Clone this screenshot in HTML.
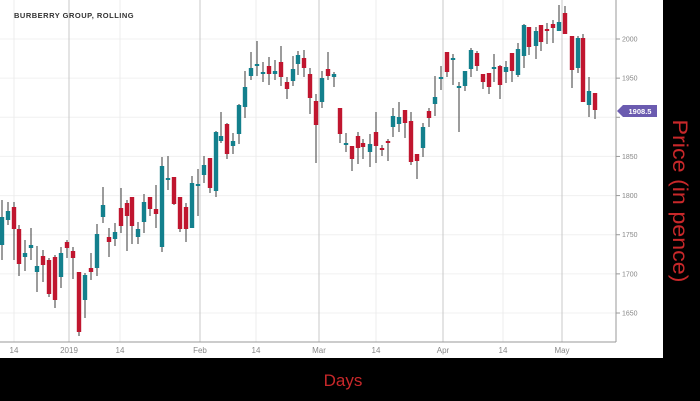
<!DOCTYPE html>
<html><head><meta charset="utf-8"><style>
body{margin:0;width:700px;height:401px;background:#000;overflow:hidden;font-family:"Liberation Sans",sans-serif}
</style></head><body>
<svg id="s" width="700" height="401" xmlns="http://www.w3.org/2000/svg" style="position:absolute;left:0;top:0">
<rect x="0" y="0" width="700" height="401" fill="#000"/>
<rect x="0" y="0" width="663" height="358" fill="#fff"/>
<g id="grid"></g>
<g id="c"></g>
<line x1="616" y1="0" x2="616" y2="342" stroke="#999" stroke-width="1"/>
<line x1="0" y1="342" x2="616" y2="342" stroke="#999" stroke-width="1"/>
<text x="14" y="18" font-size="7.5" font-weight="bold" fill="#333" letter-spacing="0.5">BURBERRY GROUP, ROLLING</text>
<g font-size="8" fill="#888" text-anchor="middle">
<text x="14" y="353">14</text><text x="69" y="353">2019</text><text x="120" y="353">14</text>
<text x="200" y="353">Feb</text><text x="256" y="353">14</text><text x="319" y="353">Mar</text>
<text x="376" y="353">14</text><text x="443" y="353">Apr</text><text x="503" y="353">14</text><text x="562" y="353">May</text>
</g>
<path d="M617,111 L623,105 L657,105 L657,117 L623,117 Z" fill="#6b5bb0"/>
<text x="640" y="114" font-size="7.5" font-weight="bold" fill="#fff" text-anchor="middle">1908.5</text>
<text x="343" y="386" font-size="17" fill="#c8282a" text-anchor="middle">Days</text>
<text transform="translate(673,201) rotate(90)" font-size="21" fill="#c8282a" text-anchor="middle" textLength="163" lengthAdjust="spacingAndGlyphs">Price (in pence)</text>
</svg>
<script>
var ns="http://www.w3.org/2000/svg";
function el(p,t,a){var e=document.createElementNS(ns,t);for(var k in a)e.setAttribute(k,a[k]);p.appendChild(e);return e;}
var g=document.getElementById('grid');
var prices=[2000,1950,1900,1850,1800,1750,1700,1650];
prices.forEach(function(p){var y=39+(2000-p)*0.7829;
el(g,'line',{x1:0,x2:616,y1:y,y2:y,stroke:'#f0f0f0'});
el(g,'line',{x1:616,x2:620,y1:y,y2:y,stroke:'#999'});
if(p!=1900){var t=el(g,'text',{x:622,y:y+2.5,'font-size':7,fill:'#888'});t.textContent=p;}});
[14,120,256,376,503].forEach(function(x){el(g,'line',{x1:x,x2:x,y1:0,y2:342,stroke:'#ececec'});});
[69,200,319,443,562].forEach(function(x){el(g,'line',{x1:x,x2:x,y1:0,y2:342,stroke:'#c8c8c8'});});
var d=[[2,'t',217,245,200,260],[8,'t',211,220,202,225],[14,'r',207,229,202,260],[19,'r',229,264,225,276],[25,'t',253,257,240,271],[31,'t',245,248,228,260],[37,'t',266,272,246,292],[43,'r',256,265,250,282],[49,'r',260,294,258,297],[55,'r',257,300,255,308],[61,'t',253,277,247,288],[67,'r',242,248,240,258],[73,'r',251,258,247,279],[79,'r',272,332,272,336],[85,'t',275,300,273,318],[91,'r',268,272,253,280],[97,'t',234,268,224,276],[103,'t',205,217,187,223],[109,'r',237,242,228,257],[115,'t',232,239,223,246],[121,'r',208,226,188,233],[127,'r',203,216,200,251],[132,'r',197,226,197,244],[138,'t',229,237,222,244],[144,'t',202,222,194,233],[150,'r',197,209,197,216],[156,'r',209,214,185,228],[162,'t',166,247,157,252],[168,'t',178,180,156,190],[174,'r',177,204,177,205],[180,'r',197,229,197,232],[186,'r',207,229,203,242],[192,'t',183,228,176,228],[198,'t',184,186,169,216],[204,'t',165,175,156,183],[210,'r',158,188,158,193],[216,'t',132,191,131,197],[221,'t',136,141,112,143],[227,'r',124,154,123,159],[233,'t',141,146,133,154],[239,'t',105,134,104,144],[245,'t',87,107,71,118],[251,'t',68,76,52,80],[257,'t',64,65,41,76],[263,'t',72,73,62,82],[269,'r',66,74,57,85],[275,'t',71,74,60,80],[281,'r',62,77,46,86],[287,'r',82,89,77,99],[293,'t',69,81,56,86],[298,'t',55,64,51,75],[304,'r',58,68,50,77],[310,'r',74,98,68,114],[316,'r',101,125,94,163],[322,'t',78,102,71,108],[328,'r',69,76,52,80],[334,'t',74,77,72,87],[340,'r',108,134,108,143],[346,'t',143,144,133,152],[352,'r',146,159,146,171],[358,'r',136,148,132,164],[363,'r',143,147,139,159],[370,'t',144,152,134,167],[376,'r',132,146,112,163],[382,'r',148,149,145,156],[388,'r',141,143,139,161],[393,'t',116,127,108,137],[399,'t',117,124,102,132],[405,'r',110,123,110,138],[411,'r',121,162,112,165],[417,'r',154,161,154,179],[423,'t',127,148,123,157],[429,'r',111,118,108,127],[435,'t',97,104,76,116],[441,'t',77,78,66,90],[447,'r',52,72,52,77],[453,'t',58,60,54,85],[459,'t',86,88,82,132],[465,'t',71,86,71,91],[471,'t',50,69,48,77],[477,'r',53,66,51,71],[483,'r',74,82,74,89],[489,'r',73,87,73,94],[494,'t',67,69,54,82],[500,'r',66,85,65,99],[506,'t',67,72,61,83],[512,'r',53,71,53,82],[518,'t',49,75,43,77],[524,'t',25,56,24,68],[529,'r',27,47,27,55],[536,'t',31,46,27,59],[541,'r',25,42,25,51],[547,'r',29,31,23,44],[553,'r',24,28,20,43],[559,'t',22,31,5,31],[565,'r',13,34,6,34],[572,'r',36,70,36,88],[578,'t',38,68,36,73],[583,'r',38,102,34,102],[589,'t',91,105,77,117],[595,'r',93,110,93,119]];
var c=document.getElementById('c');
d.forEach(function(a){var col=a[1]=='r'?'#c0162f':'#13808d';
el(c,'line',{x1:a[0],x2:a[0],y1:a[4],y2:a[5],stroke:'#5a5a5a','stroke-width':1.2});
el(c,'rect',{x:a[0]-2.2,y:a[2],width:4.4,height:Math.max(2,a[3]-a[2]),fill:col});});
</script>
</body></html>
